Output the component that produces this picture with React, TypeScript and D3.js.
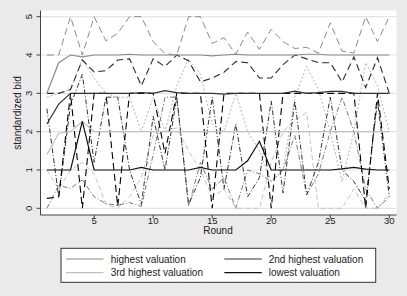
import React from "react";
import * as d3 from "d3";

const rounds = d3.range(1, 31);

// solid lines (legend series)
const highestMean = [3.0, 3.8, 4.0, 3.95, 4.0, 4.0, 4.0, 4.02, 4.0, 4.0, 4.0, 4.0, 4.0, 4.0, 3.98, 4.0, 4.02, 4.0, 4.0, 4.0, 4.0, 4.0, 4.02, 4.02, 4.0, 4.0, 4.0, 4.0, 4.0, 4.0];
const secondMean = [2.2, 2.72, 3.0, 3.0, 3.0, 3.0, 3.0, 3.0, 3.02, 3.0, 3.07, 3.02, 3.0, 3.0, 3.0, 2.98, 3.0, 3.0, 3.0, 3.0, 3.0, 3.06, 3.0, 3.02, 3.05, 3.05, 3.0, 3.0, 3.0, 3.0];
const thirdMean = [1.4, 1.96, 2.0, 2.27, 2.0, 2.0, 2.0, 2.0, 2.0, 2.0, 2.0, 2.0, 2.0, 2.0, 2.0, 2.0, 2.0, 2.0, 2.0, 2.0, 2.0, 2.0, 2.0, 2.0, 2.0, 2.0, 2.0, 2.0, 2.0, 2.0];
const lowestMean = [1.0, 1.0, 1.0, 2.27, 1.0, 1.0, 1.0, 1.0, 1.07, 1.0, 1.0, 1.0, 1.0, 1.07, 1.0, 1.0, 1.0, 1.24, 1.75, 1.0, 1.0, 1.0, 1.0, 1.0, 1.0, 1.03, 1.07, 1.02, 1.0, 1.0];

// dashed lines
const highestDash = [4.0, 4.0, 5.0, 4.0, 5.0, 4.37, 4.57, 5.0, 5.0, 4.35, 4.04, 4.0, 5.0, 5.0, 4.3, 4.45, 4.02, 4.6, 4.15, 4.67, 4.35, 4.17, 4.2, 4.05, 4.84, 4.1, 4.05, 5.0, 4.35, 5.0];
const secondDash = [3.0, 3.0, 3.1, 3.87, 3.56, 3.59, 3.87, 3.9, 3.2, 3.9, 3.7, 4.0, 3.85, 3.3, 3.4, 3.55, 3.83, 3.8, 3.4, 3.4, 3.75, 4.0, 3.9, 3.8, 3.8, 3.3, 3.95, 3.15, 3.93, 3.0];
const lowestDash = [0.26, 0.3, 3.0, 0.0, 3.0, 3.0, 0.05, 3.0, 3.0, 3.0, 1.43, 3.0, 3.0, 3.0, 0.0, 3.0, 3.0, 3.0, 3.0, 0.0, 3.0, 3.0, 3.0, 3.0, 3.0, 3.0, 3.0, 0.0, 3.0, 0.5];

// dash-dot / dotted lines
const lowestDot = [2.6, 0.3, 2.7, 3.5, 1.2, 2.9, 2.9, 1.0, 0.1, 2.4, 1.0, 2.9, 0.1, 0.8, 2.9, 0.5, 2.2, 0.3, 0.8, 2.8, 0.4, 2.8, 0.35, 1.2, 2.9, 1.0, 0.7, 0.2, 2.8, 0.3];
const secondDot = [0.0, 0.6, 0.52, 0.74, 0.3, 0.12, 0.08, 0.15, 0.05, 1.4, 2.9, 2.9, 0.05, 1.2, 0.5, 0.8, 0.0, 1.0, 0.9, 0.7, 1.0, 1.9, 0.35, 0.9, 2.0, 2.9, 2.0, 0.5, 0.0, 0.3];
const thirdDot = [2.9, 3.0, 3.1, 3.9, 3.4, 3.0, 2.9, 2.9, 2.0, 2.9, 2.0, 3.2, 3.9, 3.5, 2.2, 2.0, 3.0, 2.0, 1.5, 0.7, 1.0, 2.9, 3.7, 3.1, 2.0, 0.7, 2.0, 3.8, 3.2, 2.0];
const thirdDash = [1.0, 0.5, 1.0, 1.2, 0.9, 0.1, 0.0, 0.3, 0.8, 1.9, 2.0, 2.1, 1.5, 1.0, 0.3, 0.5, 0.0, 0.0, 0.0, 1.2, 2.0, 2.3, 2.5, 0.0, 0.0, 0.0, 0.5, 0.0, 0.0, 0.4];

const yTicks = [0, 1, 2, 3, 4, 5];
const xTicks = [5, 10, 15, 20, 25, 30];
const legendLabels = ["highest valuation", "2nd highest valuation", "3rd highest valuation", "lowest valuation"];

const W = 407;
const H = 296;
const plotL = 40.5, plotR = 396.5, plotT = 10.5, plotB = 215;

const x = d3.scaleLinear().domain([1, 30]).range([46.9, 389.3]);
const y = d3.scaleLinear().domain([0, 5]).range([208.3, 16.7]);

const series = [
  { v: thirdDash, color: "#c4c4c4", dash: "5,3", w: 1 },
  { v: thirdDot, color: "#b4b4b4", dash: "2,2", w: 1 },
  { v: secondDot, color: "#7a7a7a", dash: "5,2,1,2", w: 1 },
  { v: lowestDot, color: "#333", dash: "5,2,1,2", w: 1 },
  { v: highestDash, color: "#8a8a8a", dash: "7,4", w: 1 },
  { v: secondDash, color: "#2a2a2a", dash: "7,4", w: 1.1 },
  { v: lowestDash, color: "#000", dash: "7,4", w: 1.1 },
  { v: thirdMean, color: "#c0c0c0", dash: null, w: 1.2 },
  { v: highestMean, color: "#8a8a8a", dash: null, w: 1.2 },
  { v: secondMean, color: "#333", dash: null, w: 1.2 },
  { v: lowestMean, color: "#111", dash: null, w: 1.2 },
];

const legendColors = ["#8a8a8a", "#333", "#c0c0c0", "#111"];

export default function App() {
  const line = d3
    .line<number>()
    .x((_, i) => x(rounds[i]))
    .y((d) => y(d));
  const font = "'Liberation Sans', Arial, Helvetica, sans-serif";
  const legX = [66, 224.3];
  const legTextX = [110.7, 268.7];
  const legY = [259, 272.7];
  return (
    <div style={{ position: "fixed", left: 0, top: 0 }}>
      <svg width={W} height={H} style={{ display: "block" }} fontFamily={font}>
        <rect x={0} y={0} width={W} height={H} fill="#eaeaea" />
        <rect x={plotL} y={plotT} width={plotR - plotL} height={plotB - plotT} fill="#fff" />
        {yTicks.map((t) => (
          <line key={"g" + t} x1={plotL} x2={plotR} y1={y(t)} y2={y(t)} stroke="#e4e4e4" strokeWidth={1.2} />
        ))}
        <defs>
          <clipPath id="clip">
            <rect x={plotL} y={plotT} width={plotR - plotL} height={plotB - plotT} />
          </clipPath>
        </defs>
        <g clipPath="url(#clip)">
          {series.map((s, i) => (
            <path
              key={i}
              d={line(s.v) || ""}
              fill="none"
              stroke={s.color}
              strokeWidth={s.w}
              strokeDasharray={s.dash || undefined}
            />
          ))}
        </g>
        <line x1={plotL} x2={plotL} y1={plotT} y2={plotB} stroke="#444" strokeWidth={1} />
        <line x1={plotL} x2={plotR} y1={plotB} y2={plotB} stroke="#444" strokeWidth={1} />
        {yTicks.map((t) => (
          <g key={"y" + t}>
            <line x1={plotL - 4} x2={plotL} y1={y(t)} y2={y(t)} stroke="#444" />
            <text
              transform={`translate(${32.3},${y(t)}) rotate(-90)`}
              textAnchor="middle"
              fontSize={9.5}
              fill="#222"
            >
              {t}
            </text>
          </g>
        ))}
        {xTicks.map((t) => (
          <g key={"x" + t}>
            <line x1={x(t)} x2={x(t)} y1={plotB} y2={plotB + 3.5} stroke="#444" />
            <text x={x(t)} y={224.3} textAnchor="middle" fontSize={9.5} fill="#222">
              {t}
            </text>
          </g>
        ))}
        <text x={218} y={233.8} textAnchor="middle" fontSize={10} fill="#222">
          Round
        </text>
        <text
          transform={`translate(${20.5},${113}) rotate(-90)`}
          textAnchor="middle"
          fontSize={10}
          fill="#222"
        >
          standardized bid
        </text>
        <rect x={61} y={248.3} width={314.7} height={34} fill="#fff" stroke="#333" strokeWidth={1} />
        {legendLabels.map((lab, i) => {
          const col = i % 2;
          const row = Math.floor(i / 2);
          return (
            <g key={lab}>
              <line
                x1={legX[col]}
                x2={legX[col] + 37.5}
                y1={legY[row]}
                y2={legY[row]}
                stroke={legendColors[i]}
                strokeWidth={1.2}
              />
              <text x={legTextX[col]} y={legY[row] + 3.5} fontSize={10} fill="#222">
                {lab}
              </text>
            </g>
          );
        })}
      </svg>
    </div>
  );
}
